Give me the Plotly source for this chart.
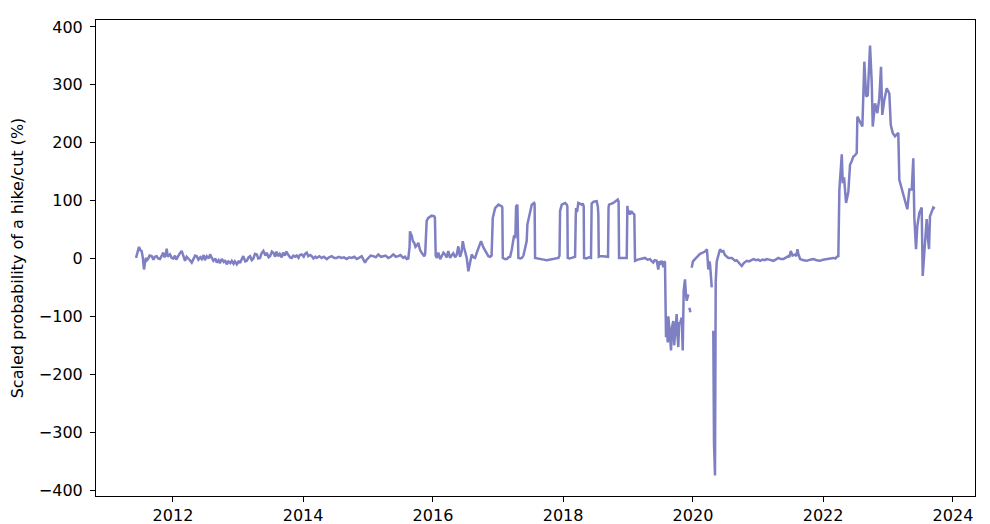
import pandas as pd
import plotly.graph_objects as go

# ---- data (decimal years, scaled probability %) ----
t_early = [2011.431, 2011.46, 2011.477, 2011.50, 2011.518, 2011.535, 2011.554, 2011.57, 2011.585, 2011.60,
           2011.615, 2011.64, 2011.672, 2011.70, 2011.72, 2011.749, 2011.77, 2011.80, 2011.83, 2011.851,
           2011.87, 2011.89, 2011.903, 2011.92, 2011.954, 2011.98, 2012.005, 2012.03, 2012.05, 2012.077,
           2012.10, 2012.134, 2012.16, 2012.185, 2012.21, 2012.231, 2012.26, 2012.288, 2012.32, 2012.34,
           2012.365, 2012.39, 2012.42, 2012.442, 2012.47, 2012.49, 2012.518, 2012.55, 2012.57, 2012.595,
           2012.62, 2012.65, 2012.672, 2012.70, 2012.72, 2012.749, 2012.78, 2012.80, 2012.826, 2012.85,
           2012.88, 2012.903, 2012.93, 2012.95, 2012.98, 2013.01, 2013.03, 2013.057, 2013.08, 2013.11,
           2013.134, 2013.16, 2013.185, 2013.21, 2013.231, 2013.26, 2013.288, 2013.31, 2013.338, 2013.36,
           2013.389, 2013.42, 2013.442, 2013.47, 2013.492, 2013.52, 2013.543, 2013.57, 2013.59, 2013.615,
           2013.64, 2013.67, 2013.692, 2013.72, 2013.74, 2013.769, 2013.80, 2013.826, 2013.85, 2013.88,
           2013.903, 2013.93, 2013.95, 2013.98, 2014.01, 2014.03, 2014.057, 2014.08, 2014.11, 2014.134,
           2014.16, 2014.19, 2014.211, 2014.25, 2014.288, 2014.32, 2014.365, 2014.40, 2014.442, 2014.48,
           2014.518, 2014.55, 2014.595, 2014.63, 2014.672, 2014.71, 2014.749, 2014.79, 2014.826, 2014.86,
           2014.903, 2014.93, 2014.954, 2014.98, 2015.005, 2015.04, 2015.082, 2015.12, 2015.158, 2015.20,
           2015.235, 2015.27, 2015.312, 2015.35, 2015.389, 2015.43, 2015.466, 2015.50, 2015.543, 2015.57,
           2015.595, 2015.62]
v_early = [1, 12, 20, 14, 13, 2, -19, -6, 1, -3,
           -1, 5, 4, -2, 3, 4, 0, -1, 6, 10,
           2, 8, 17, 3, 7, 1, 0, 5, -2, 4,
           8, 13, 2, -4, 3, 1, -3, -7, 0, 5,
           4, -2, 2, -1, 6, -3, 4, 0, 7, 1,
           -4, 0, -7, -3, -8, -1, -6, -3, -10, -5,
           -8, -4, -9, -5, -10, -4, -8, -1, 4, -5,
           -4, 2, 4, -3, -1, 8, 7, 0, 1, 9,
           13, 5, 10, 2, 4, 12, 10, 3, 12, 4,
           8, 2, 10, 5, 12, 7, 2, 1, 5, 3,
           5, 1, 6, 7, 3, 8, 10, 4, 6, 4,
           0, 3, 1, 4, 1, 3, -1, 2, 4, 1,
           1, 3, 1, 2, -1, 2, 1, 3, -1, 1,
           4, -2, -7, -2, 1, 5, 4, 2, 7, 3,
           4, 5, 1, 3, 7, 3, 4, 6, 1, 3,
           -1, 0]

t_mid = [2015.64, 2015.646, 2015.66, 2015.672, 2015.69, 2015.712, 2015.73, 2015.749, 2015.774, 2015.80,
         2015.826, 2015.85, 2015.866, 2015.88, 2015.895, 2015.903, 2015.928, 2015.95, 2015.98, 2016.02,
         2016.03, 2016.042, 2016.06, 2016.082, 2016.11, 2016.134, 2016.16, 2016.185, 2016.21, 2016.235,
         2016.262, 2016.29, 2016.312, 2016.34, 2016.365, 2016.389, 2016.415, 2016.44, 2016.457, 2016.477,
         2016.50, 2016.518, 2016.543, 2016.569, 2016.595, 2016.62, 2016.646, 2016.682, 2016.712, 2016.738,
         2016.774, 2016.80, 2016.826, 2016.85, 2016.877, 2016.90, 2016.918, 2016.954, 2017.005, 2017.057,
         2017.065, 2017.072, 2017.10, 2017.134, 2017.16, 2017.185, 2017.21, 2017.226, 2017.246, 2017.265,
         2017.277, 2017.297, 2017.305, 2017.312, 2017.34, 2017.365, 2017.39, 2017.415, 2017.44, 2017.451,
         2017.482, 2017.50, 2017.518, 2017.554, 2017.562, 2017.569, 2017.60, 2017.646, 2017.70, 2017.749,
         2017.80, 2017.851, 2017.90, 2017.928, 2017.945, 2017.954, 2017.98, 2018.031, 2018.057, 2018.066,
         2018.072, 2018.10, 2018.134, 2018.185, 2018.195, 2018.20, 2018.215, 2018.235, 2018.288, 2018.303,
         2018.318, 2018.323, 2018.36, 2018.40, 2018.43, 2018.44, 2018.47, 2018.518, 2018.535, 2018.543,
         2018.55, 2018.569, 2018.615, 2018.692, 2018.70, 2018.708, 2018.774, 2018.842, 2018.855, 2018.862,
         2018.903, 2018.98, 2018.99, 2018.995, 2019.031, 2019.05, 2019.066, 2019.097, 2019.103, 2019.108,
         2019.15, 2019.185, 2019.22, 2019.262, 2019.30, 2019.338, 2019.36, 2019.389, 2019.41, 2019.442,
         2019.455, 2019.466, 2019.48, 2019.50, 2019.518, 2019.543, 2019.555, 2019.569]
v_mid = [20, 47, 42, 40, 30, 27, 20, 22, 27, 15,
         10, 6, 4, 8, 60, 65, 70, 72, 74, 73,
         70, 5, 1, 10, -1, 4, 10, 7, 2, 13,
         1, 6, 9, 2, 7, 21, 3, 12, 30, 19,
         6, 1, -22, -10, 7, 2, 1, 13, 24, 30,
         19, 13, 7, 4, 3, 5, 70, 87, 93, 90,
         88, 1, -1, -1, 2, 3, 15, 30, 40, 35,
         90, 93, 60, 1, 0, 1, 5, 19, 30, 59,
         76, 80, 93, 96, 94, 1, 0, -1, -2, -3,
         -2, -1, 0, 1, 5, 82, 93, 96, 93, 90,
         1, 0, 1, 3, 70, 87, 80, 96, 93, 95,
         90, 1, 0, 2, 1, 95, 98, 99, 90, 76,
         3, 4, 4, 3, 88, 93, 96, 102, 98, 1,
         1, 1, 91, 85, 76, 82, 79, 76, 30, -4,
         -2, -1, 0, 1, -2, -1, -4, -7, -3, -4,
         -12, -19, -5, -8, -4, -15, -5, -7]

t_covid = [2019.585, 2019.60, 2019.611, 2019.62, 2019.631, 2019.645, 2019.662, 2019.675, 2019.697, 2019.71,
           2019.723, 2019.735, 2019.749, 2019.76, 2019.774, 2019.787, 2019.80, 2019.826, 2019.842, 2019.857,
           2019.877, 2019.89, 2019.903, 2019.928, 2019.937, 2019.945, 2019.96, 2019.97, 2019.98, 2020.0,
           2020.031, 2020.07, 2020.108, 2020.15, 2020.185, 2020.215, 2020.235, 2020.25, 2020.262, 2020.288,
           2020.30, 2020.312, 2020.323, 2020.338, 2020.345, 2020.349, 2020.365, 2020.38, 2020.40, 2020.415,
           2020.44, 2020.466, 2020.49, 2020.518, 2020.543, 2020.595, 2020.62, 2020.646, 2020.67, 2020.697,
           2020.72, 2020.749, 2020.78, 2020.80, 2020.826, 2020.86, 2020.90, 2020.928, 2020.97, 2021.0,
           2021.031, 2021.07, 2021.10, 2021.134, 2021.17, 2021.20, 2021.235, 2021.27, 2021.312, 2021.35,
           2021.389, 2021.42, 2021.466, 2021.48, 2021.503, 2021.53, 2021.569, 2021.59, 2021.605, 2021.62,
           2021.646, 2021.70, 2021.749, 2021.80, 2021.851, 2021.90, 2021.954, 2022.0, 2022.057, 2022.10,
           2022.158, 2022.19, 2022.211, 2022.235]
v_covid = [-136, -120, -145, -100, -113, -140, -159, -120, -108, -150,
           -136, -115, -96, -130, -153, -110, -113, -102, -159, -56,
           -36, -60, -73, -62, None, -85, -93, None, -16, -5,
           -1, 4, 8, 10, 12, 16, -19, -5, -10, -50,
           None, -125, -320, -375, -200, -40, -5, 1, 10, 16,
           12, 13, 6, 4, 1, 1, -1, -4, -3, -7,
           -9, -13, -8, -6, -4, -5, -2, -1, -3, -2,
           -4, -2, -3, -1, -2, -3, -4, -2, 1, -1,
           -1, 1, 4, 2, 13, 5, 7, 4, 16, 8,
           -1, -3, -4, -2, -1, -3, -4, -2, -1, -1,
           1, 0, 3, 4]

t_late = [2022.251, 2022.288, 2022.303, 2022.323, 2022.354, 2022.389, 2022.415, 2022.44, 2022.466, 2022.49,
          2022.518, 2022.528, 2022.55, 2022.569, 2022.605, 2022.635, 2022.662, 2022.688, 2022.723, 2022.749,
          2022.765, 2022.80, 2022.835, 2022.866, 2022.892, 2022.912, 2022.943, 2022.98, 2023.02, 2023.042,
          2023.072, 2023.108, 2023.158, 2023.174, 2023.211, 2023.246, 2023.277, 2023.297, 2023.328, 2023.365,
          2023.389, 2023.405, 2023.431, 2023.451, 2023.482, 2023.518, 2023.534, 2023.558, 2023.595, 2023.611,
          2023.631, 2023.646, 2023.672, 2023.697, 2023.72]
v_late = [119, 180, 130, 140, 96, 115, 162, 168, 176, 178,
          182, 245, 240, 237, 228, 340, 280, 282, 368, 305,
          228, 268, 251, 277, 331, 248, 274, 294, 285, 231,
          217, 211, 217, 136, 122, 108, 96, 85, 119, 119,
          173, 71, 16, 56, 79, 88, -30, 16, 68, 39,
          16, 73, 82, 88, 86]

y_tick_vals = [-400, -300, -200, -100, 0, 100, 200, 300, 400]
y_tick_text = ["\u2212400", "\u2212300", "\u2212200", "\u2212100", "0", "100", "200", "300", "400"]
x_tick_years = [2012, 2014, 2016, 2018, 2020, 2022, 2024]
x_tick_text = [str(y) for y in x_tick_years]


def to_date(y):
    yr = int(y)
    start = pd.Timestamp(yr, 1, 1)
    end = pd.Timestamp(yr + 1, 1, 1)
    return start + (y - yr) * (end - start)


years = t_early + t_mid + t_covid + t_late
values = v_early + v_mid + v_covid + v_late
dates = [to_date(y) for y in years]

fig = go.Figure()
fig.add_trace(go.Scatter(x=dates, y=values, mode="lines",
                         line=dict(color="rgb(127,127,196)", width=2.5),
                         connectgaps=False, showlegend=False))

font = dict(family="DejaVu Sans", size=16, color="black")
axis_common = dict(showline=True, linecolor="black", linewidth=1, mirror=True,
                   ticks="outside", ticklen=5, tickwidth=1, tickcolor="black",
                   showgrid=False, zeroline=False, tickfont=font, automargin=False)

# the page body adds an 8px offset, so the figure is sized to fit the window after it
fig.update_layout(
    width=982, height=516,
    margin=dict(l=88, r=15, t=12, b=28),
    paper_bgcolor="white", plot_bgcolor="white",
    font=font,
    xaxis=dict(type="date", range=[to_date(2010.815), to_date(2024.338)],
               tickvals=[pd.Timestamp(y, 1, 1) for y in x_tick_years], ticktext=x_tick_text,
               **axis_common),
    yaxis=dict(range=[-410.3, 412], tickvals=y_tick_vals, ticktext=y_tick_text,
               ticklabelstandoff=4,
               title=dict(text="Scaled probability of a hike/cut (%)", font=font, standoff=11),
               **axis_common),
)

fig.write_html("out.html")
